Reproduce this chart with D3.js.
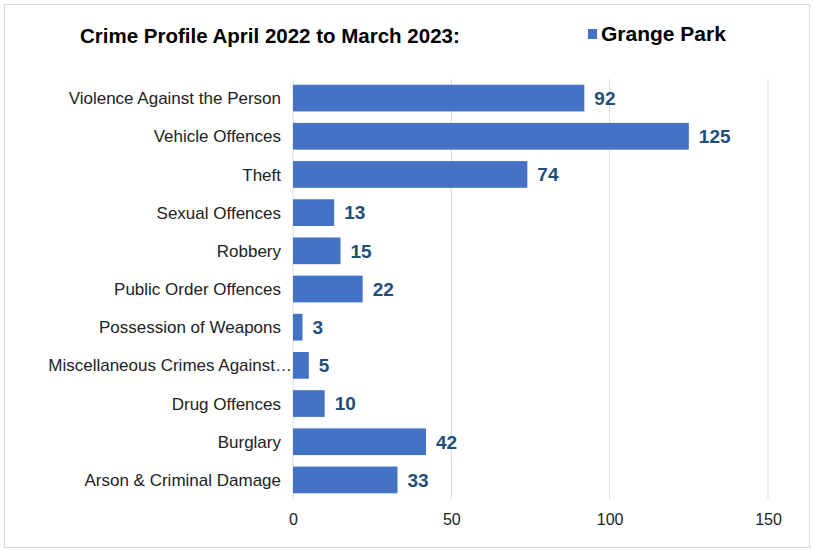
<!DOCTYPE html>
<html><head><meta charset="utf-8">
<script src="https://cdn.jsdelivr.net/npm/d3@7"></script>
<style>body{margin:0;background:#fff}svg{display:block}</style>
</head><body>
<svg id="c" width="813" height="550"></svg>
<script>
const title = "Crime Profile April 2022 to March 2023:";
const seriesName = "Grange Park";
const categories = ["Violence Against the Person","Vehicle Offences","Theft","Sexual Offences","Robbery","Public Order Offences","Possession of Weapons","Miscellaneous Crimes Against Society","Drug Offences","Burglary","Arson & Criminal Damage"];
const values = [92,125,74,13,15,22,3,5,10,42,33];
const ticks = [0,50,100,150];

const svg = d3.select("#c");
const font = "Liberation Sans, Arial, sans-serif";
svg.append("rect").attr("x",4.5).attr("y",4.5).attr("width",805).attr("height",543)
  .attr("fill","#fff").attr("stroke","#d9d9d9");

const x = d3.scaleLinear().domain([0,150]).range([293,768]);
const y = d3.scaleBand().domain(categories).range([79,499]).paddingInner(0.3).paddingOuter(0.15);

svg.append("g").selectAll("line").data(ticks).join("line")
  .attr("x1",d=>x(d)).attr("x2",d=>x(d)).attr("y1",79).attr("y2",499)
  .attr("stroke","#d9d9d9").attr("stroke-width",1);

const xa = svg.append("g").attr("transform","translate(0,499)")
  .call(d3.axisBottom(x).tickValues(ticks).tickSize(0).tickPadding(15));
xa.select(".domain").remove();
xa.selectAll("text").attr("font-family",font).attr("font-size",16).attr("fill","#222");

svg.append("g").selectAll("rect").data(values).join("rect")
  .attr("x",x(0)).attr("y",(d,i)=>y(categories[i]))
  .attr("width",d=>x(d)-x(0)).attr("height",y.bandwidth()).attr("fill","#4472C4");

svg.append("g").selectAll("text").data(values).join("text")
  .attr("x",d=>x(d)+10).attr("y",(d,i)=>y(categories[i])+y.bandwidth()/2)
  .attr("dy","0.36em").attr("font-family",font).attr("font-size",19).attr("font-weight","bold")
  .attr("fill","#1F4E79").text(d=>d);

function trunc(s,max){
  const t = svg.append("text").attr("font-family",font).attr("font-size",17);
  t.text(s);
  if (t.node().getComputedTextLength() <= max){t.remove();return s;}
  let str = s;
  while(str.length>1){str=str.slice(0,-1);t.text(str+"…");if(t.node().getComputedTextLength()<=max)break;}
  t.remove();return str.trimEnd()+"…";
}
svg.append("g").selectAll("text").data(categories).join("text")
  .each(function(d){
    const lbl = trunc(d,250);
    d3.select(this).text(lbl).attr("x", lbl===d ? 281 : 292);
  })
  .attr("y",d=>y(d)+y.bandwidth()/2).attr("dy","0.36em")
  .attr("text-anchor","end").attr("font-family",font).attr("font-size",17).attr("fill","#222");

svg.append("text").attr("x",80).attr("y",43).attr("font-family",font).attr("font-size",20.5)
  .attr("font-weight","bold").attr("fill","#000").text(title);
svg.append("rect").attr("x",588).attr("y",29).attr("width",9).attr("height",10).attr("fill","#4472C4");
svg.append("text").attr("x",601).attr("y",41).attr("font-family",font).attr("font-size",21)
  .attr("font-weight","bold").attr("fill","#000").text(seriesName);
</script>
</body></html>
